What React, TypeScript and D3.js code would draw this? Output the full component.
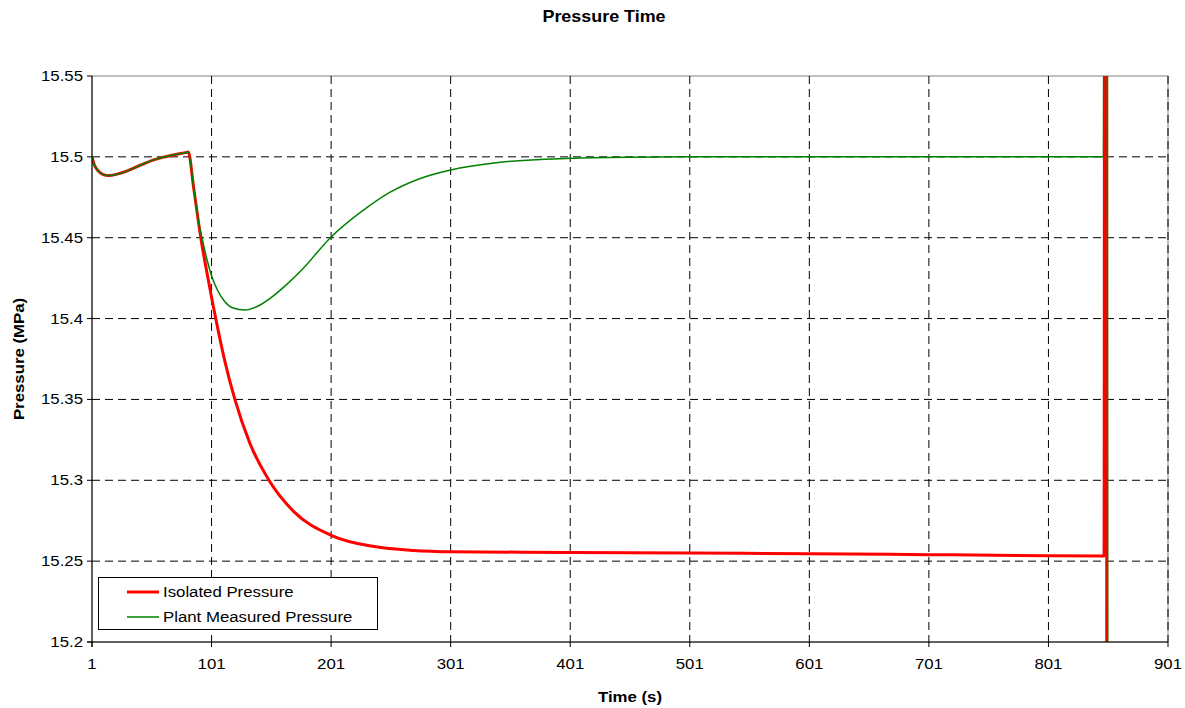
import React from "react";
import * as d3 from "d3";

const TITLE = "Pressure Time";
const X_TITLE = "Time (s)";
const Y_TITLE = "Pressure (MPa)";

const xTicks = [1, 101, 201, 301, 401, 501, 601, 701, 801, 901];
const yTicks = [15.2, 15.25, 15.3, 15.35, 15.4, 15.45, 15.5, 15.55];

const isolatedT = [1, 3, 6, 10, 15, 22, 30, 42, 52, 60, 70, 79, 81.5, 86, 90, 92, 97, 104.5, 112, 120.5, 133, 149, 170, 201, 237, 270, 301, 401, 501, 601, 701, 801, 847.5, 848.5, 849.5, 850];
const isolatedP = [15.5, 15.495, 15.4915, 15.4892, 15.4884, 15.4893, 15.4912, 15.495, 15.498, 15.4997, 15.5013, 15.5026, 15.503, 15.481, 15.46, 15.45, 15.429, 15.4, 15.374, 15.35, 15.323, 15.3, 15.2805, 15.266, 15.259, 15.2566, 15.2558, 15.2554, 15.255, 15.2546, 15.254, 15.2534, 15.2532, 16.5, 16.5, 14.0];

const plantT = [1, 3, 6, 10, 15, 22, 30, 42, 52, 60, 70, 79, 81.5, 86, 90, 93, 97, 101, 106, 111, 119, 129, 140, 150, 163, 177, 200, 228, 250, 275, 301, 339, 401, 451, 501, 601, 701, 801, 847, 848, 850, 851];
const plantP = [15.5, 15.495, 15.4915, 15.4892, 15.4884, 15.4893, 15.4912, 15.495, 15.498, 15.4997, 15.5013, 15.5026, 15.503, 15.481, 15.46, 15.45, 15.437, 15.4265, 15.4175, 15.4115, 15.4065, 15.4053, 15.4078, 15.4125, 15.4205, 15.4305, 15.4497, 15.467, 15.478, 15.4865, 15.4919, 15.4964, 15.4991, 15.4998, 15.5, 15.5, 15.5, 15.5, 15.5, 16.0, 16.0, 14.5];

const SERIES = [
  { name: "Isolated Pressure", t: isolatedT, p: isolatedP, color: "#FF0000", width: 3 },
  { name: "Plant Measured Pressure", t: plantT, p: plantP, color: "#008000", width: 1.5 },
];

const W = 1185;
const H = 708;
const L = 92, R = 1168, T = 76, B = 642;
const FS = 15;
const SX = 1.12;
const FONT = "'Liberation Sans', Arial, sans-serif";

function Txt({ x, y, anchor = "middle", bold = false, rotate = 0, size = FS, children }: any) {
  return (
    <text
      transform={`translate(${x},${y}) rotate(${rotate}) scale(${SX},1)`}
      textAnchor={anchor}
      fontFamily={FONT}
      fontSize={size}
      fontWeight={bold ? "bold" : "normal"}
      fill="#000"
    >
      {children}
    </text>
  );
}

export default function App() {
  const x = d3.scaleLinear().domain([1, 901]).range([L, R]);
  const y = d3.scaleLinear().domain([15.2, 15.55]).range([B, T]);
  const line = d3
    .line<[number, number]>()
    .x((d) => x(d[0]))
    .y((d) => y(d[1]))
    .curve(d3.curveMonotoneX);

  const fmt = (v: number) => String(+v.toFixed(2));

  return (
    <svg width={W} height={H} style={{ position: "absolute", left: 0, top: 0, background: "#fff" }}>
      <defs>
        <clipPath id="plotclip">
          <rect x={L} y={T} width={R - L} height={B - T} />
        </clipPath>
      </defs>
      <rect x={0} y={0} width={W} height={H} fill="#fff" />
      <Txt x={604} y={22} bold size={16}>{TITLE}</Txt>

      {/* plot border */}
      <rect x={L} y={T} width={R - L} height={B - T} fill="#fff" stroke="#808080" strokeWidth={1} />

      {/* grid */}
      {yTicks.slice(1, -1).map((v) => (
        <line key={"gy" + v} x1={L} x2={R} y1={y(v)} y2={y(v)} stroke="#000" strokeWidth={1} strokeDasharray="8,5" />
      ))}
      {xTicks.slice(1).map((v) => (
        <line key={"gx" + v} x1={x(v)} x2={x(v)} y1={T} y2={B} stroke="#000" strokeWidth={1} strokeDasharray="8,5" />
      ))}

      {/* series */}
      <g clipPath="url(#plotclip)">
        {SERIES.map((s) => (
          <path
            key={s.name}
            d={line(s.t.map((t, i) => [t, s.p[i]] as [number, number])) || ""}
            fill="none"
            stroke={s.color}
            strokeWidth={s.width}
            strokeLinejoin="round"
          />
        ))}
      </g>

      {/* axes */}
      <line x1={L} x2={L} y1={T} y2={B + 5} stroke="#000" strokeWidth={1} />
      <line x1={L - 5} x2={R} y1={B} y2={B} stroke="#000" strokeWidth={1} />
      {yTicks.map((v) => (
        <g key={"yt" + v}>
          <line x1={L - 5} x2={L} y1={y(v)} y2={y(v)} stroke="#000" />
          <Txt x={L - 9} y={y(v) + 5} anchor="end">{fmt(v)}</Txt>
        </g>
      ))}
      {xTicks.map((v) => (
        <g key={"xt" + v}>
          <line x1={x(v)} x2={x(v)} y1={B} y2={B + 5} stroke="#000" />
          <Txt x={x(v)} y={669}>{String(v)}</Txt>
        </g>
      ))}

      <Txt x={630} y={702} bold>{X_TITLE}</Txt>
      <Txt x={24} y={359} bold rotate={-90}>{Y_TITLE}</Txt>

      {/* legend */}
      <rect x={98.5} y={577.5} width={279} height={52} fill="#fff" stroke="#000" strokeWidth={1} />
      {SERIES.map((s, i) => (
        <g key={"lg" + s.name}>
          <line x1={127} x2={159} y1={592 + i * 25} y2={592 + i * 25} stroke={s.color} strokeWidth={s.width} />
          <Txt x={163} y={597 + i * 25} anchor="start">{s.name}</Txt>
        </g>
      ))}
    </svg>
  );
}
